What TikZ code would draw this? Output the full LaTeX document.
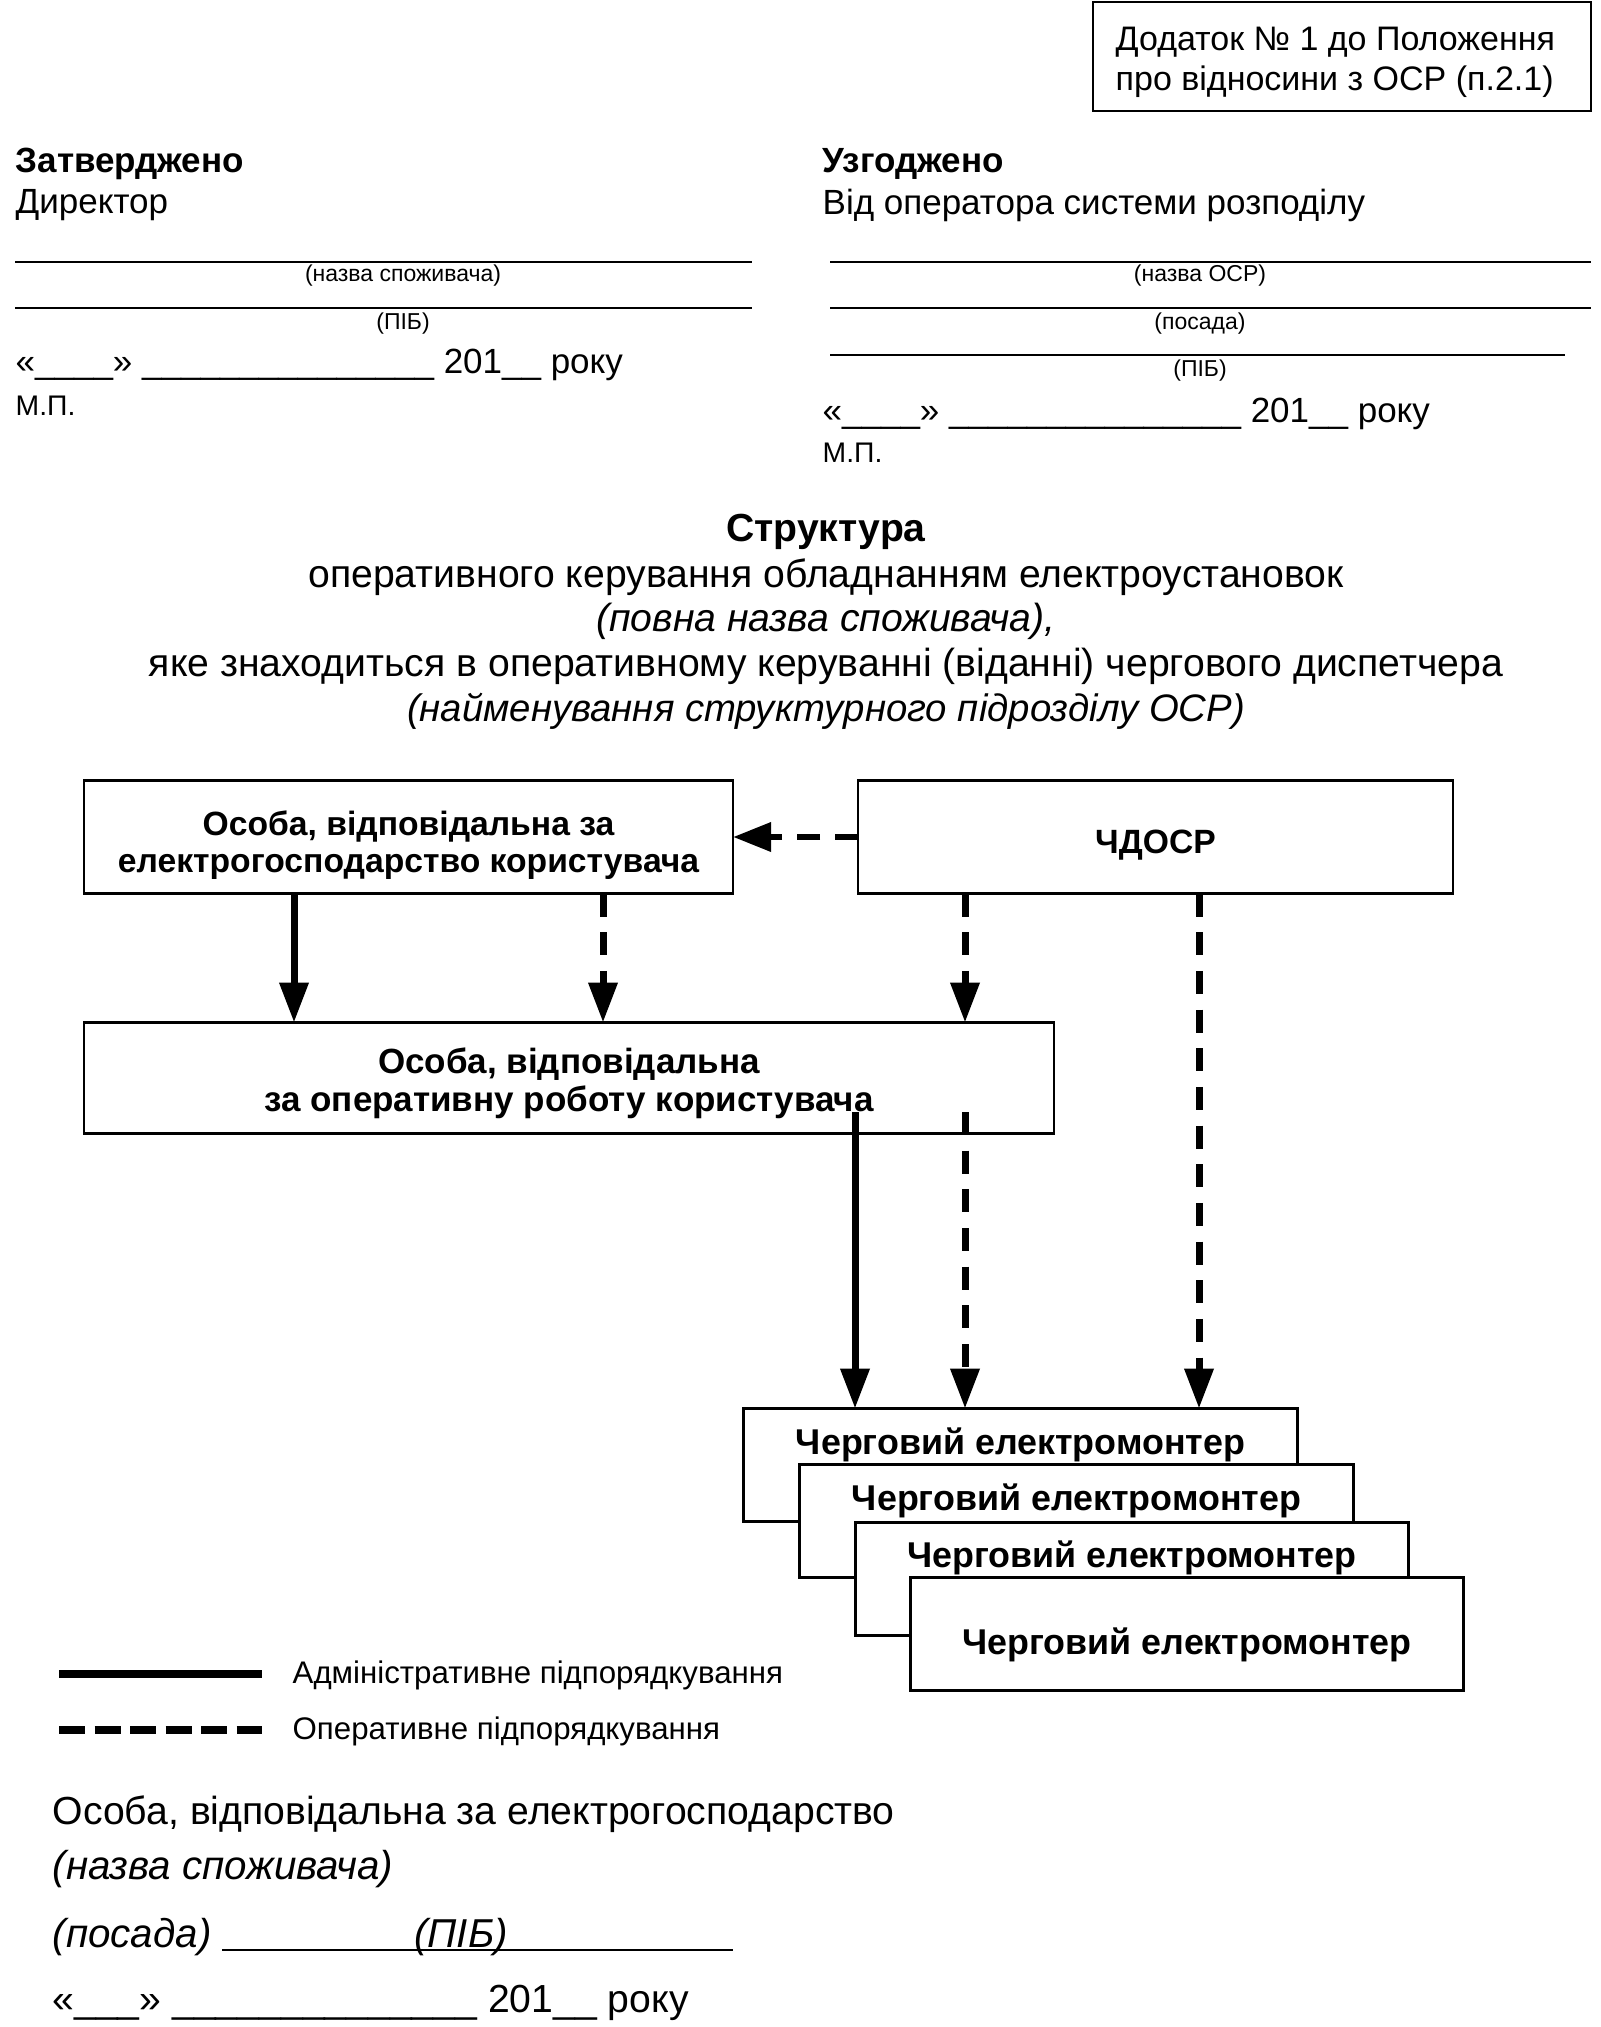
\documentclass[tikz,border=0pt]{standalone}
\usepackage{fontspec}
\setmainfont{Liberation Sans}
\usetikzlibrary{arrows.meta}
\begin{document}
\begin{tikzpicture}[x=0.3pt,y=-0.3pt,
  txt/.style={inner sep=0pt, anchor=west, font=\fontsize{10.5}{12}\selectfont},
  btxt/.style={txt, font=\fontsize{10.5}{12}\bfseries\selectfont},
  small/.style={inner sep=0pt, font=\fontsize{6.9}{8}\selectfont},
  ttl/.style={inner sep=0pt, font=\fontsize{11.75}{13}\selectfont},
  ttli/.style={inner sep=0pt, font=\fontsize{11.75}{13}\itshape\selectfont},
  leg/.style={inner sep=0pt, anchor=west, font=\fontsize{9.37}{11}\selectfont},
  bot/.style={inner sep=0pt, anchor=west, font=\fontsize{11.75}{13}\selectfont},
  boti/.style={inner sep=0pt, anchor=west, font=\fontsize{12.1}{13}\itshape\selectfont},
  sig/.style={line width=0.6pt},
  box/.style={draw, line width=0.85pt, fill=white, inner sep=0pt, outer sep=0pt,
    minimum height=33.9pt},
  btx/.style={inner sep=0pt, align=center, font=\fontsize{10.1}{11.3}\bfseries\selectfont},
  etxt/.style={inner sep=0pt, font=\fontsize{10.75}{12}\bfseries\selectfont},
  adm/.style={line width=2.1pt, -{Triangle[length=12pt,width=8.4pt]}},
  oper/.style={line width=2.1pt, dash pattern=on 6.9pt off 4.7pt, -{Triangle[length=12pt,width=8.4pt]}},
  operh/.style={line width=2pt, dash pattern=on 6.9pt off 4.5pt, -{Triangle[length=11.4pt,width=8.4pt]}}
]
\useasboundingbox (0,0) rectangle (1600,2027);
\fill[white] (0,0) rectangle (1600,2027);

% top right box
\draw[line width=0.8pt] (1093,2) rectangle (1591,111);
\node[txt, font=\fontsize{10.2}{12}\selectfont] (tb1) at (1115,42) {Додаток № 1 до Положення};
\node[txt, font=\fontsize{10.2}{12}\selectfont] (tb2) at (1115,82) {про відносини з ОСР (п.2.1)};

% left signature block
\node[btxt] (zat) at (15,164) {Затверджено};
\node[txt] (dir) at (15,205) {Директор};
\draw[sig] (15,262) -- (752,262);
\node[small] (l1) at (403,276) {(назва споживача)};
\draw[sig] (15,308) -- (752,308);
\node[small] (l2) at (403,324) {(ПІБ)};
\node[txt] (ld) at (15,365) {«\_\_\_\_» \_\_\_\_\_\_\_\_\_\_\_\_\_\_\_ 201\_\_ року};
\node[txt, font=\fontsize{8.5}{10}\selectfont] (lmp) at (15,406) {М.П.};

% right signature block
\node[btxt] (uzg) at (822,164) {Узгоджено};
\node[txt] (vid) at (822,205) {Від оператора системи розподілу};
\draw[sig] (830,262) -- (1591,262);
\node[small] (r1) at (1200,276) {(назва ОСР)};
\draw[sig] (830,308) -- (1591,308);
\node[small] (r2) at (1200,324) {(посада)};
\draw[sig] (830,355) -- (1565,355);
\node[small] (r3) at (1200,371) {(ПІБ)};
\node[txt] (rd) at (822,414) {«\_\_\_\_» \_\_\_\_\_\_\_\_\_\_\_\_\_\_\_ 201\_\_ року};
\node[txt, font=\fontsize{8.5}{10}\selectfont] (rmp) at (822,453) {М.П.};

% title
\node[ttl, font=\fontsize{11.75}{13}\bfseries\selectfont] (t1) at (826,532) {Структура};
\node[ttl] (t2) at (826,577) {оперативного керування обладнанням електроустановок};
\node[ttli] (t3) at (826,621) {(повна назва споживача),};
\node[ttl] (t4) at (826,666) {яке знаходиться в оперативному керуванні (віданні) чергового диспетчера};
\node[ttli, font=\fontsize{11.5}{13}\itshape\selectfont] (t5) at (826,711) {(найменування структурного підрозділу ОСР)};

% boxes
\node[box, minimum width=194.7pt] (a) at (408.5,837) {};
\node[btx] (at) at (408.5,845) {Особа, відповідальна за\\електрогосподарство користувача};
\node[box, minimum width=178.5pt] (b) at (1155.5,837) {};
\node[btx] (bt) at (1155.5,845) {ЧДОСР};
\node[box, minimum width=291pt, minimum height=33.3pt] (c) at (569,1078) {};
\node[btx, font=\fontsize{10.5}{11.3}\bfseries\selectfont] (ct) at (569,1083) {Особа, відповідальна\\за оперативну роботу користувача};

% electromonter boxes
\node[box, minimum width=166pt] (e1) at (1020.5,1465) {};
\node[etxt] (e1t) at (1020.5,1445) {Черговий електромонтер};
\node[box, minimum width=166pt] (e2) at (1076.5,1521) {};
\node[etxt] (e2t) at (1076.5,1501) {Черговий електромонтер};
\node[box, minimum width=166pt] (e3) at (1132,1579) {};
\node[etxt] (e3t) at (1132,1558) {Черговий електромонтер};
\node[box, minimum width=166pt] (e4) at (1187,1634) {};
\node[etxt] (e4t) at (1187,1645) {Черговий електромонтер};

% connectors
\coordinate (xa) at (294,0);
\coordinate (xb) at (603,0);
\coordinate (xc) at (965,0);
\coordinate (xd) at (1199,0);
\coordinate (s1) at (855,1112);
\coordinate (s2) at (965,1112);
\draw[operh] (b.west) -- (a.east);
\draw[adm] (xa |- a.south) -- (xa |- c.north);
\draw[oper] (xb |- a.south) -- (xb |- c.north);
\draw[oper] (xc |- b.south) -- (xc |- c.north);
\draw[oper] (xd |- b.south) -- (xd |- e1.north);
\draw[adm] (s1) -- (s1 |- e1.north);
\draw[oper] (s2) -- (s2 |- e1.north);

% legend
\draw[line width=2.4pt] (59,1674) -- (262,1674);
\node[leg] (lg1) at (292,1675) {Адміністративне підпорядкування};
\draw[line width=2.4pt, dash pattern=on 7.8pt off 2.85pt] (59,1730) -- (262,1730);
\node[leg] (lg2) at (292,1731) {Оперативне підпорядкування};

% bottom signature
\node[bot] (b1) at (52,1814) {Особа, відповідальна за електрогосподарство};
\node[boti] (b2) at (52,1869) {(назва споживача)};
\node[boti] (b3) at (52,1937) {(посада)};
\draw[sig] (222,1950) -- (733,1950);
\node[inner sep=0pt, font=\fontsize{12.1}{13}\itshape\selectfont] (b3p) at (461,1937) {(ПІБ)};
\node[bot] (b4) at (52,2003) {«\_\_\_» \_\_\_\_\_\_\_\_\_\_\_\_\_\_ 201\_\_ року};
\end{tikzpicture}
\end{document}
